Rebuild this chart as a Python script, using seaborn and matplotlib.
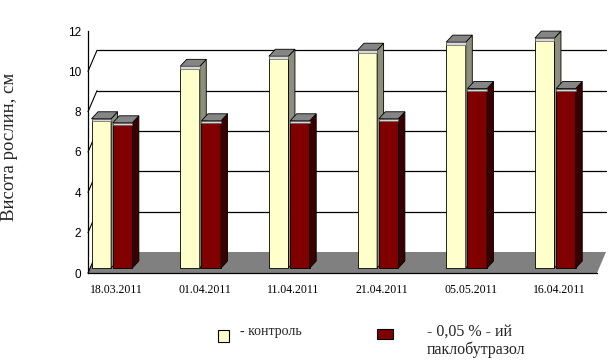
import matplotlib
matplotlib.use('Agg')
import numpy as np
import pandas as pd
import matplotlib.pyplot as plt
import matplotlib.transforms as mtransforms
from matplotlib.patches import Polygon, Rectangle
import seaborn as sns

# ── data ────────────────────────────────────────────────
dates = ['18.03.2011', '01.04.2011', '11.04.2011', '21.04.2011', '05.05.2011', '16.04.2011']
control = [7.4, 10.0, 10.5, 10.8, 11.2, 11.4]
paclobutrazol = [7.2, 7.3, 7.3, 7.4, 8.9, 8.9]
groups = ['контроль', 'паклобутразол']
legend_labels = ['- контроль', '- 0,05 % - ий\nпаклобутразол']
yticks = [0, 2, 4, 6, 8, 10, 12]

df = pd.DataFrame({
    'date': dates * 2,
    'height': control + paclobutrazol,
    'group': [groups[0]] * len(dates) + [groups[1]] * len(dates),
})

face_colors = ['#FFFFCC', '#800000']
side_colors = ['#8E8E7C', '#3A0000']
top_color = '#858585'
floor_color = '#808080'

# ── figure ──────────────────────────────────────────────
sns.set_style('white')
plt.rcParams['font.family'] = ['Liberation Serif', 'DejaVu Serif']

fig = plt.figure(figsize=(6.16, 3.61), dpi=100)
ax = fig.add_axes([88 / 616, 88 / 361, 509 / 616, 242 / 361])

sns.barplot(data=df, x='date', y='height', hue='group', palette=face_colors,
            saturation=1, width=0.48, gap=0.08, errorbar=None,
            edgecolor='black', linewidth=0.6, legend=False, ax=ax)
bars = sorted([p for p in ax.patches if isinstance(p, Rectangle)],
              key=lambda p: p.get_x())

ax.set_xlim(-0.27, 5.47)
ax.set_ylim(0, 12)
ax.set_yticks(yticks)

# pixel -> data unit conversions (fixed figure size)
p0 = ax.transData.transform((0, 0))
p1 = ax.transData.transform((1, 1))
sx, sy = p1[0] - p0[0], p1[1] - p0[1]
wall_dx, wall_dy = 9 / sx, 21 / sy      # back wall offset
dep_dx, dep_dy = 6.5 / sx, 7 / sy       # bar depth
lift = 5 / sy                           # bars stand in the middle of the floor
band = 2.5 / sy

xl, xr = ax.get_xlim()

# floor
ax.add_patch(Polygon([(xl, 0), (xr, 0), (xr + wall_dx, wall_dy), (xl + wall_dx, wall_dy)],
                     closed=True, facecolor=floor_color, edgecolor='none',
                     zorder=1, clip_on=False))

# back wall gridlines and side wall diagonals
for v in yticks[1:-1]:
    ax.plot([xl + wall_dx, xr + wall_dx], [v + wall_dy, v + wall_dy],
            color='black', lw=0.9, zorder=1.5, clip_on=False)
for v in yticks[:-1]:
    ax.plot([xl, xl + wall_dx], [v, v + wall_dy], color='black', lw=0.8,
            zorder=1.5, clip_on=False)

# 3D faces for each bar
for k, bar in enumerate(bars):
    gi = 0 if bar.get_facecolor()[1] > 0.5 else 1
    z = 3 + k * 0.01
    x0, w, h = bar.get_x(), bar.get_width(), bar.get_height()
    x1 = x0 + w
    bar.set_y(lift)
    bar.set_zorder(z)
    b, t = lift, lift + h
    ax.add_patch(Polygon([(x1, b), (x1 + dep_dx, b + dep_dy), (x1 + dep_dx, t + dep_dy), (x1, t)],
                         closed=True, facecolor=side_colors[gi], edgecolor='black',
                         lw=0.6, zorder=z))
    ax.add_patch(Polygon([(x0, t), (x1, t), (x1 + dep_dx, t + dep_dy), (x0 + dep_dx, t + dep_dy)],
                         closed=True, facecolor=top_color, edgecolor='black',
                         lw=0.6, zorder=z, clip_on=False))
    ax.add_patch(Rectangle((x0, t - band), w, band, facecolor='#D8D8D8',
                           edgecolor='#606060', lw=0.5, zorder=z + 0.001))

# axes styling
for s in ['top', 'right']:
    ax.spines[s].set_visible(False)
for s in ['left', 'bottom']:
    ax.spines[s].set_color('black')
    ax.spines[s].set_linewidth(0.9)
ax.tick_params(axis='y', direction='out', length=4, width=0.8, pad=1,
               labelsize=8.5, colors='black')
ax.tick_params(axis='x', length=0, pad=8, labelsize=8.5, colors='black')
for lbl in ax.get_yticklabels():
    lbl.set_fontfamily('Liberation Sans')
shift = mtransforms.ScaledTranslation(4 / 100, 0, fig.dpi_scale_trans)
for lbl in ax.get_xticklabels():
    lbl.set_transform(lbl.get_transform() + shift)

ax.set_xlabel('')
ax.set_ylabel('Висота рослин, см', fontsize=13.5)
ax.yaxis.set_label_coords(-0.137, 0.52)

# legend drawn by hand like the original
fig.patches.append(Rectangle((218 / 616, 1 - 342 / 361), 11 / 616, 12 / 361,
                             transform=fig.transFigure, facecolor=face_colors[0],
                             edgecolor='black', lw=0.8))
fig.patches.append(Rectangle((377 / 616, 1 - 339 / 361), 16 / 616, 10 / 361,
                             transform=fig.transFigure, facecolor=face_colors[1],
                             edgecolor='black', lw=0.8))
fig.text(240 / 616, 1 - 332 / 361, legend_labels[0], fontsize=10, va='center')
fig.text(427 / 616, 1 - 341 / 361, legend_labels[1], fontsize=11.5, va='center',
         linespacing=1.1)

fig.savefig('out.png', dpi=100)
